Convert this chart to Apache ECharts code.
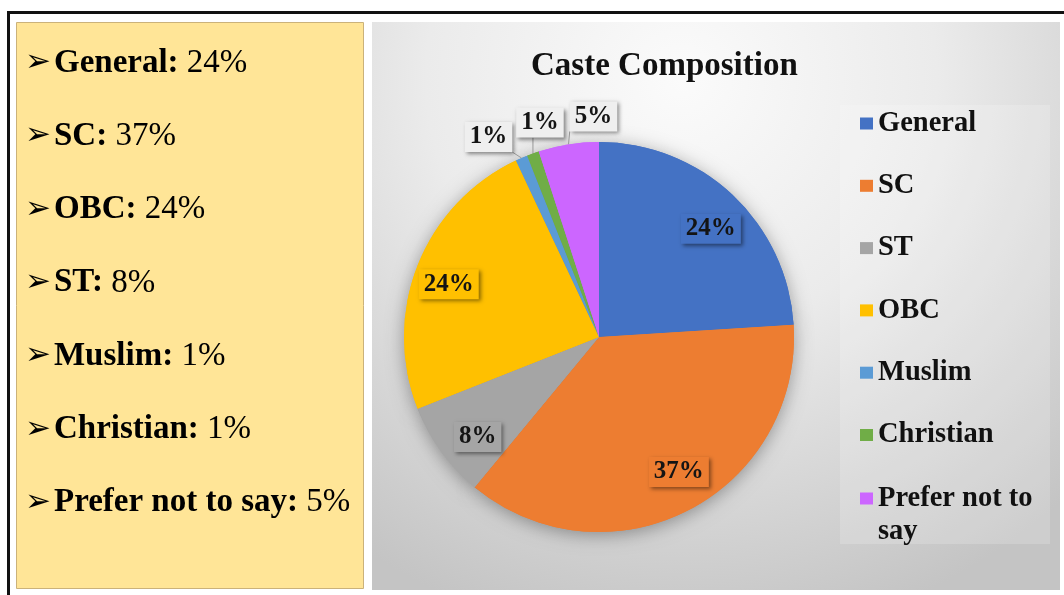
<!DOCTYPE html>
<html>
<head>
<meta charset="utf-8">
<script src="https://cdn.jsdelivr.net/npm/echarts@6/dist/echarts.min.js"></script>
<style>
  html, body { margin: 0; padding: 0; background: #ffffff; }
  #chart { width: 1064px; height: 595px; }
</style>
</head>
<body>
<div id="chart"></div>
<script>
// Survey shares by caste / community (percent)
const categories = ['General', 'SC', 'ST', 'OBC', 'Muslim', 'Christian', 'Prefer not to say'];
const shares = [24, 37, 8, 24, 1, 1, 5];
const sliceColors = ['#4472C4', '#ED7D31', '#A5A5A5', '#FFC000', '#5B9BD5', '#70AD47', '#CC66FF'];
// Order used by the bullet summary on the left
const summaryOrder = ['General', 'SC', 'OBC', 'ST', 'Muslim', 'Christian', 'Prefer not to say'];
const chartTitle = 'Caste Composition';
// Thin slices get a call-out label outside the pie
const calloutSlices = ['Muslim', 'Christian', 'Prefer not to say'];

// Call-out label offsets from the slice's rim point (layout only)
const calloutOffset = {
  'Muslim': [-33, -21],
  'Christian': [7, -31],
  'Prefer not to say': [25, -28]
};
// Small nudges for the in-slice labels (layout only)
const insideNudge = {
  'General': [-1, 12],
  'SC': [5, -12],
  'ST': [12, 3],
  'OBC': [3, 8]
};

const SERIF = '"Liberation Serif", "Times New Roman", serif';
const PIE_CENTER = [599, 337];
const PIE_RADIUS = 195;

const shareOf = name => shares[categories.indexOf(name)];

const boxLabel = (bg) => ({
  fontFamily: SERIF,
  fontWeight: 'bold',
  fontSize: 25,
  color: '#141414',
  backgroundColor: bg,
  padding: [3, 5, 2, 5],
  shadowColor: 'rgba(0,0,0,0.45)',
  shadowBlur: 4,
  shadowOffsetX: 2,
  shadowOffsetY: 2
});

// Slices with no shadow, callouts for the thin ones
const sliceData = categories.map((name, i) => {
  const callout = calloutSlices.includes(name);
  return {
    name: name,
    value: shares[i],
    itemStyle: { color: sliceColors[i] },
    label: callout
      ? Object.assign({ show: true, position: 'outside', formatter: '{c}%' }, boxLabel('#efefef'))
      : { show: false },
    labelLine: { show: callout, length: 8, length2: 4, lineStyle: { color: '#9a9a9a', width: 1 } }
  };
});

// Shadow layer under the pie
const shadowData = categories.map((name, i) => ({
  name: name, value: shares[i], itemStyle: { color: sliceColors[i] }
}));

// Transparent carrier whose inside labels sit at ~0.8 of the pie radius
const labelData = categories.map((name, i) => {
  const callout = calloutSlices.includes(name);
  return {
    name: name,
    value: shares[i],
    itemStyle: { color: 'rgba(0,0,0,0)' },
    label: callout
      ? { show: false }
      : Object.assign({ show: true, position: 'inside', formatter: '{c}%' }, boxLabel(sliceColors[i]))
  };
});

// Bullet list on the yellow panel
const summaryText = summaryOrder.map((name, i) => ({
  type: 'text',
  z: 5,
  style: {
    x: 25,
    y: 63 + i * 73.3,
    verticalAlign: 'middle',
    text: '{a|\u27A2}{b|' + name + ':}{r| ' + shareOf(name) + '%}',
    rich: {
      a: { fontFamily: '"DejaVu Sans", sans-serif', fontSize: 31, color: '#111', padding: [0, 3, 0, 0] },
      b: { fontFamily: SERIF, fontWeight: 'bold', fontSize: 33, color: '#111' },
      r: { fontFamily: SERIF, fontSize: 33, color: '#111' }
    }
  }
}));

const legendText = {
  fontFamily: SERIF,
  fontWeight: 'bold',
  fontSize: 28.5,
  color: '#111',
  lineHeight: 33
};

const chart = echarts.init(document.getElementById('chart'), null, { renderer: 'canvas' });
chart.setOption({
  animation: false,
  backgroundColor: '#ffffff',
  title: {
    text: chartTitle,
    left: 531,
    top: 50,
    padding: 0,
    textStyle: { fontFamily: SERIF, fontWeight: 'bold', fontSize: 33, color: '#111' }
  },
  legend: [
    {
      orient: 'vertical',
      left: 860,
      top: 107,
      padding: 0,
      icon: 'rect',
      itemWidth: 13,
      itemHeight: 12,
      itemGap: 29.3,
      selectedMode: false,
      data: categories.filter(n => n !== 'Prefer not to say'),
      textStyle: legendText
    },
    {
      // wrapped entry: a leading blank line keeps the swatch level with the first text line
      orient: 'vertical',
      left: 860,
      top: 449,
      padding: 0,
      icon: 'rect',
      itemWidth: 13,
      itemHeight: 12,
      selectedMode: false,
      data: ['Prefer not to say'],
      formatter: name => '\n' + name.replace(/ (\S+)$/, '\n$1'),
      textStyle: legendText
    }
  ],
  graphic: [
    {
      type: 'rect', z: 0,
      shape: { x: 8.5, y: 12.5, width: 1100, height: 640 },
      style: { fill: null, stroke: '#111111', lineWidth: 3 }
    },
    {
      type: 'rect', z: 0,
      shape: { x: 16.5, y: 22.5, width: 347, height: 566 },
      style: { fill: '#FFE597', stroke: '#cbb27a', lineWidth: 1 }
    },
    {
      type: 'rect', z: 0,
      shape: { x: 372, y: 22, width: 688, height: 568 },
      style: {
        fill: new echarts.graphic.RadialGradient(0.45, 0.1, 1.0, [
          { offset: 0, color: '#fbfbfb' },
          { offset: 0.45, color: '#ebebeb' },
          { offset: 1, color: '#c4c4c4' }
        ])
      }
    },
    {
      type: 'rect', z: 0,
      shape: { x: 840, y: 105, width: 210, height: 439 },
      style: { fill: 'rgba(255,255,255,0.18)' }
    }
  ].concat(summaryText),
  series: [
    {
      name: 'shadow',
      type: 'pie',
      z: 1,
      silent: true,
      center: PIE_CENTER,
      radius: PIE_RADIUS,
      startAngle: 90,
      clockwise: true,
      label: { show: false },
      labelLine: { show: false },
      itemStyle: { shadowBlur: 18, shadowColor: 'rgba(0,0,0,0.35)', shadowOffsetY: 3 },
      data: shadowData
    },
    {
      name: chartTitle,
      type: 'pie',
      z: 2,
      center: PIE_CENTER,
      radius: PIE_RADIUS,
      startAngle: 90,
      clockwise: true,
      avoidLabelOverlap: false,
      itemStyle: { borderWidth: 0 },
      emphasis: { disabled: true },
      labelLayout: function (p) {
        const name = categories[p.dataIndex];
        const off = calloutOffset[name];
        if (!off || !p.labelLinePoints) return {};
        const a = p.labelLinePoints[0];
        const cx = a[0] + off[0];
        const cy = a[1] + off[1];
        const w = p.labelRect.width, h = p.labelRect.height;
        const ex = Math.min(Math.max(a[0], cx - w / 2), cx + w / 2);
        const ey = Math.min(Math.max(a[1], cy - h / 2), cy + h / 2);
        return {
          x: cx, y: cy, align: 'center', verticalAlign: 'middle',
          labelLinePoints: [[a[0], a[1]], [ex, ey], [ex, ey]]
        };
      },
      data: sliceData
    },
    {
      name: 'labels',
      type: 'pie',
      z: 3,
      silent: true,
      center: PIE_CENTER,
      radius: [0, PIE_RADIUS * 1.66],
      startAngle: 90,
      clockwise: true,
      labelLine: { show: false },
      labelLayout: function (p) {
        const nudge = insideNudge[categories[p.dataIndex]];
        return nudge ? { dx: nudge[0], dy: nudge[1] } : {};
      },
      data: labelData
    }
  ]
});
</script>
</body>
</html>
